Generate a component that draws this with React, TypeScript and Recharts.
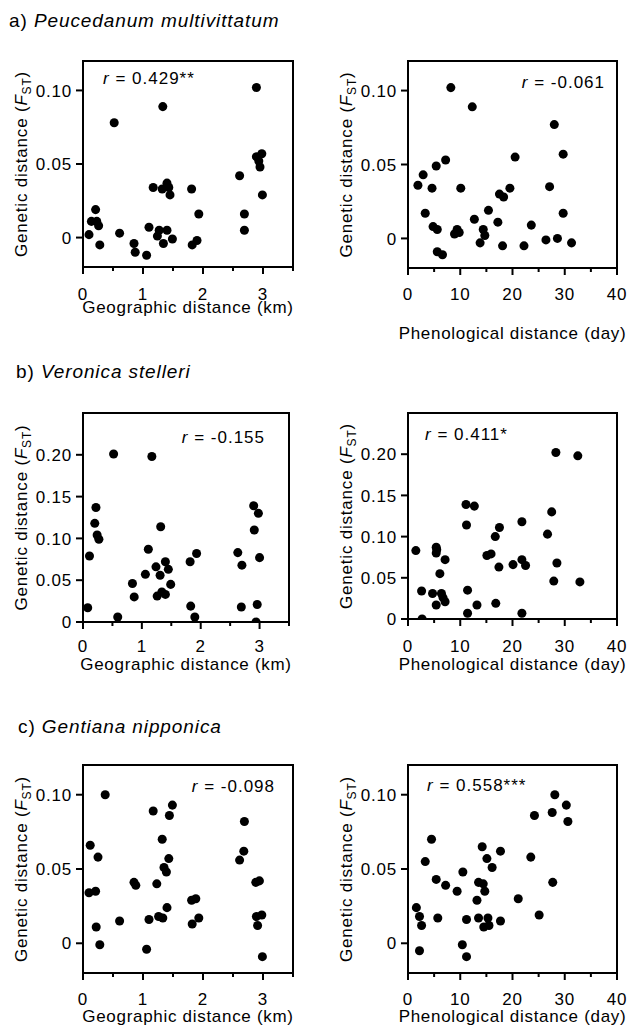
import React from "react";
import { ScatterChart, Scatter, XAxis, YAxis, ReferenceArea } from "recharts";

const FONT = "'Liberation Sans', Arial, Helvetica, sans-serif";

// a) Peucedanum multivittatum
const aGeoKm = [0.1, 0.14, 0.21, 0.23, 0.26, 0.28, 0.52, 0.61, 0.85, 0.87, 1.06, 1.1, 1.17, 1.24, 1.27, 1.33, 1.32, 1.34, 1.4, 1.4, 1.43, 1.45, 1.49, 1.81, 1.82, 1.9, 1.93, 2.61, 2.69, 2.69, 2.89, 2.89, 2.93, 2.95, 2.98, 2.99];
const aGeoFst = [0.002, 0.011, 0.019, 0.011, 0.008, -0.005, 0.078, 0.003, -0.004, -0.01, -0.012, 0.007, 0.034, 0.001, 0.005, 0.089, 0.033, -0.004, 0.037, 0.005, 0.034, 0.029, -0.001, 0.033, -0.005, -0.002, 0.016, 0.042, 0.016, 0.005, 0.102, 0.055, 0.052, 0.048, 0.057, 0.029];
const aPhenDay = [1.9, 2.9, 3.3, 4.6, 4.8, 5.4, 5.6, 5.6, 6.6, 7.2, 8.2, 8.9, 9.4, 9.8, 10.1, 12.3, 12.7, 13.8, 14.4, 14.7, 15.4, 17.2, 17.5, 18.3, 18.1, 19.5, 20.5, 22.2, 23.6, 26.4, 27.1, 28.0, 28.6, 29.7, 29.7, 31.3];
const aPhenFst = [0.036, 0.043, 0.017, 0.034, 0.008, 0.049, 0.006, -0.009, -0.011, 0.053, 0.102, 0.003, 0.006, 0.004, 0.034, 0.089, 0.013, -0.003, 0.006, 0.002, 0.019, 0.011, 0.03, 0.028, -0.005, 0.034, 0.055, -0.005, 0.009, -0.001, 0.035, 0.077, 0, 0.017, 0.057, -0.003];

// b) Veronica stelleri
const bGeoKm = [0.08, 0.11, 0.2, 0.22, 0.24, 0.27, 0.52, 0.59, 0.84, 0.87, 1.06, 1.11, 1.17, 1.24, 1.26, 1.31, 1.32, 1.34, 1.4, 1.4, 1.45, 1.49, 1.82, 1.83, 1.9, 1.93, 2.63, 2.7, 2.69, 2.9, 2.91, 2.98, 2.94, 2.96, 3.0];
const bGeoFst = [0.017, 0.079, 0.118, 0.137, 0.104, 0.099, 0.201, 0.006, 0.046, 0.03, 0.057, 0.087, 0.198, 0.066, 0.031, 0.056, 0.114, 0.036, 0.072, 0.033, 0.063, 0.045, 0.072, 0.019, 0.006, 0.082, 0.083, 0.068, 0.018, 0.139, 0.11, 0.13, 0, 0.021, 0.077];
const bPhenDay = [1.5, 2.6, 2.7, 4.7, 5.4, 5.5, 5.4, 5.4, 6.1, 6.4, 7.1, 7.1, 6.7, 11.1, 11.2, 11.4, 11.4, 12.7, 13.2, 15.1, 15.9, 16.7, 16.8, 17.4, 17.5, 20.1, 21.8, 21.8, 21.8, 22.5, 26.7, 27.5, 27.9, 28.3, 28.5, 32.5, 32.9];
const bPhenFst = [0.083, 0.034, 0, 0.031, 0.087, 0.084, 0.08, 0.017, 0.055, 0.031, 0.072, 0.021, 0.026, 0.139, 0.114, 0.035, 0.007, 0.137, 0.017, 0.077, 0.079, 0.1, 0.019, 0.063, 0.111, 0.066, 0.118, 0.007, 0.072, 0.065, 0.103, 0.13, 0.046, 0.202, 0.068, 0.198, 0.045];

// c) Gentiana nipponica
const cGeoKm = [0.1, 0.12, 0.21, 0.22, 0.25, 0.28, 0.37, 0.61, 0.85, 0.88, 1.06, 1.1, 1.17, 1.23, 1.26, 1.32, 1.33, 1.35, 1.39, 1.4, 1.43, 1.44, 1.49, 1.81, 1.82, 1.88, 1.93, 2.61, 2.68, 2.69, 2.88, 2.94, 2.89, 2.91, 2.98, 2.99];
const cGeoFst = [0.034, 0.066, 0.035, 0.011, 0.058, -0.001, 0.1, 0.015, 0.041, 0.039, -0.004, 0.016, 0.089, 0.04, 0.018, 0.07, 0.017, 0.051, 0.048, 0.024, 0.057, 0.086, 0.093, 0.029, 0.013, 0.03, 0.017, 0.056, 0.062, 0.082, 0.041, 0.042, 0.018, 0.012, 0.019, -0.009];
const cPhenDay = [1.6, 2.2, 2.6, 2.2, 3.3, 4.5, 5.4, 5.7, 7.2, 9.4, 10.5, 10.4, 11.2, 11.2, 13.2, 13.5, 13.5, 14.2, 14.4, 14.5, 14.7, 15.1, 15.3, 15.5, 16.1, 17.7, 17.7, 21.1, 23.5, 24.2, 25.1, 27.6, 27.7, 28.1, 30.3, 30.6];
const cPhenFst = [0.024, 0.018, 0.012, -0.005, 0.055, 0.07, 0.043, 0.017, 0.039, 0.035, 0.048, -0.001, 0.016, -0.009, 0.029, 0.041, 0.017, 0.065, 0.04, 0.011, 0.035, 0.057, 0.017, 0.012, 0.051, 0.062, 0.015, 0.03, 0.058, 0.086, 0.019, 0.088, 0.041, 0.1, 0.093, 0.082];

// axes
const geoTicks = [0, 0.5, 1, 1.5, 2, 2.5, 3, 3.5];
const phenTicks = [0, 5, 10, 15, 20, 25, 30, 35, 40];
const fstTicksSmall = [0, 0.05, 0.1];
const fstTicksLarge = [0, 0.05, 0.1, 0.15, 0.2];

const txt = { fontFamily: FONT, fontSize: 17, letterSpacing: 0.8, fill: "#000" };

const zip = (xs: number[], ys: number[]) => xs.map((x, i) => ({ x, y: ys[i] }));

const fmtFst = (v: number) => (v === 0 ? "0" : v.toFixed(2));

type PanelProps = {
    left: number;
    width: number;
    plot: { x0: number; x1: number; y0: number; y1: number };
    xs: number[];
    ys: number[];
    xTicks: number[];
    xMajor: number;
    yTicks: number[];
    xLabel: string;
    xAxisH: number;
    xTickGap: number;
    rText: string;
    rAnchor: "start" | "end";
    rDx: number;
    rDy: number;
};

function Panel(p: PanelProps) {
    const TOP = 30;
    const plotH = p.plot.y1 - p.plot.y0;
    const height = TOP + plotH + p.xAxisH + 6;
    const xDomain = [p.xTicks[0], p.xTicks[p.xTicks.length - 1]];
    const yDomain = p.yTicks.length > 3 ? [0, 0.25] : [-0.02, 0.12];
    const data = zip(p.xs, p.ys);

    const xTick = (t: any) => {
        const v = t.payload.value;
        const major = Math.abs(v / p.xMajor - Math.round(v / p.xMajor)) < 1e-6;
        const axisY = t.y - p.xTickGap - 6;
        return (
            <g>
                <line x1={t.x} x2={t.x} y1={axisY} y2={axisY + (major ? 7 : 4)} stroke="#000" strokeWidth={2} />
                {major && (
                    <text x={t.x} y={t.y} dy="0.71em" textAnchor="middle" style={txt}>
                        {v}
                    </text>
                )}
            </g>
        );
    };

    const yTick = (t: any) => (
        <text x={t.x} y={t.y} dy="0.36em" textAnchor="end" style={txt}>
            {fmtFst(t.payload.value)}
        </text>
    );

    const yLabel = (lp: any) => {
        const vb = lp.viewBox;
        const cx = vb.x + vb.width - 62;
        const cy = vb.y + vb.height / 2;
        return (
            <text x={cx} y={cy} dy="0.36em" textAnchor="middle" transform={`rotate(-90, ${cx}, ${cy})`} style={txt}>
                Genetic distance (<tspan fontStyle="italic">F</tspan>
                <tspan fontSize={12} dy={4}>ST</tspan>
                <tspan dy={-4}>)</tspan>
            </text>
        );
    };

    const xLabel = (lp: any) => {
        const vb = lp.viewBox;
        return (
            <text x={vb.x + vb.width / 2} y={vb.y + vb.height} textAnchor="middle" style={{ ...txt, letterSpacing: 0.7 }}>
                {p.xLabel}
            </text>
        );
    };

    const rLabel = (lp: any) => {
        const vb = lp.viewBox;
        const x = p.rAnchor === "start" ? vb.x + p.rDx : vb.x + vb.width - p.rDx;
        return (
            <text x={x} y={vb.y + p.rDy} textAnchor={p.rAnchor} style={{ ...txt, letterSpacing: 1 }}>
                <tspan fontStyle="italic">r</tspan>
                {" = " + p.rText}
            </text>
        );
    };

    return (
        <div style={{ position: "absolute", left: p.left, top: p.plot.y0 - TOP }}>
            <ScatterChart
                width={p.width}
                height={height}
                margin={{ top: TOP, right: p.left + p.width - p.plot.x1, bottom: 6, left: 0 }}
            >
                <XAxis
                    type="number"
                    dataKey="x"
                    domain={xDomain}
                    ticks={p.xTicks}
                    interval={0}
                    allowDataOverflow
                    height={p.xAxisH}
                    tickSize={6}
                    tickMargin={p.xTickGap}
                    tickLine={false}
                    axisLine={{ stroke: "#000", strokeWidth: 2 }}
                    tick={xTick}
                    label={{ content: xLabel }}
                />
                <YAxis
                    type="number"
                    dataKey="y"
                    domain={yDomain}
                    ticks={p.yTicks}
                    interval={0}
                    allowDataOverflow
                    width={p.plot.x0 - p.left}
                    tickSize={7}
                    tickMargin={4}
                    tickLine={{ stroke: "#000", strokeWidth: 2 }}
                    axisLine={{ stroke: "#000", strokeWidth: 2 }}
                    tick={yTick}
                    label={{ content: yLabel }}
                />
                <ReferenceArea
                    x1={xDomain[0]}
                    x2={xDomain[1]}
                    y1={yDomain[0]}
                    y2={yDomain[1]}
                    fill="none"
                    fillOpacity={0}
                    stroke="#000"
                    strokeWidth={2}
                    label={{ content: rLabel }}
                />
                <Scatter data={data} fill="#000" shape="circle" isAnimationActive={false} />
            </ScatterChart>
        </div>
    );
}

export default function App() {
    const titleStyle = { fontFamily: FONT, fontSize: 19, letterSpacing: 0.9, fill: "#000" };
    return (
        <div style={{ position: "absolute", left: 0, top: 0, width: 630, height: 1032, background: "#fff" }}>
            <svg width={630} height={1032} style={{ position: "absolute", left: 0, top: 0 }}>
                <text x={9} y={27} style={titleStyle}>
                    a) <tspan fontStyle="italic">Peucedanum multivittatum</tspan>
                </text>
                <text x={16} y={378} style={titleStyle}>
                    b) <tspan fontStyle="italic">Veronica stelleri</tspan>
                </text>
                <text x={18} y={733} style={titleStyle}>
                    c) <tspan fontStyle="italic">Gentiana nipponica</tspan>
                </text>
            </svg>

            <Panel left={0} width={315} plot={{ x0: 83, x1: 293, y0: 61, y1: 267 }} xs={aGeoKm} ys={aGeoFst}
                xTicks={geoTicks} xMajor={1} yTicks={fstTicksSmall} xLabel="Geographic distance (km)"
                xAxisH={46} xTickGap={15} rText="0.429**" rAnchor="start" rDx={20} rDy={23} />
            <Panel left={315} width={315} plot={{ x0: 408, x1: 617, y0: 61, y1: 268 }} xs={aPhenDay} ys={aPhenFst}
                xTicks={phenTicks} xMajor={10} yTicks={fstTicksSmall} xLabel="Phenological distance (day)"
                xAxisH={71} xTickGap={14} rText="-0.061" rAnchor="end" rDx={12} rDy={27} />

            <Panel left={0} width={315} plot={{ x0: 83, x1: 289, y0: 413, y1: 622 }} xs={bGeoKm} ys={bGeoFst}
                xTicks={geoTicks} xMajor={1} yTicks={fstTicksLarge} xLabel="Geographic distance (km)"
                xAxisH={48} xTickGap={12} rText="-0.155" rAnchor="end" rDx={24} rDy={30} />
            <Panel left={315} width={315} plot={{ x0: 408, x1: 617, y0: 413, y1: 619 }} xs={bPhenDay} ys={bPhenFst}
                xTicks={phenTicks} xMajor={10} yTicks={fstTicksLarge} xLabel="Phenological distance (day)"
                xAxisH={51} xTickGap={15} rText="0.411*" rAnchor="start" rDx={17} rDy={27} />

            <Panel left={0} width={315} plot={{ x0: 83, x1: 293, y0: 765, y1: 973 }} xs={cGeoKm} ys={cGeoFst}
                xTicks={geoTicks} xMajor={1} yTicks={fstTicksSmall} xLabel="Geographic distance (km)"
                xAxisH={49} xTickGap={14} rText="-0.098" rAnchor="end" rDx={18} rDy={27} />
            <Panel left={315} width={315} plot={{ x0: 408, x1: 617, y0: 765, y1: 973 }} xs={cPhenDay} ys={cPhenFst}
                xTicks={phenTicks} xMajor={10} yTicks={fstTicksSmall} xLabel="Phenological distance (day)"
                xAxisH={49} xTickGap={14} rText="0.558***" rAnchor="start" rDx={19} rDy={26} />
        </div>
    );
}
